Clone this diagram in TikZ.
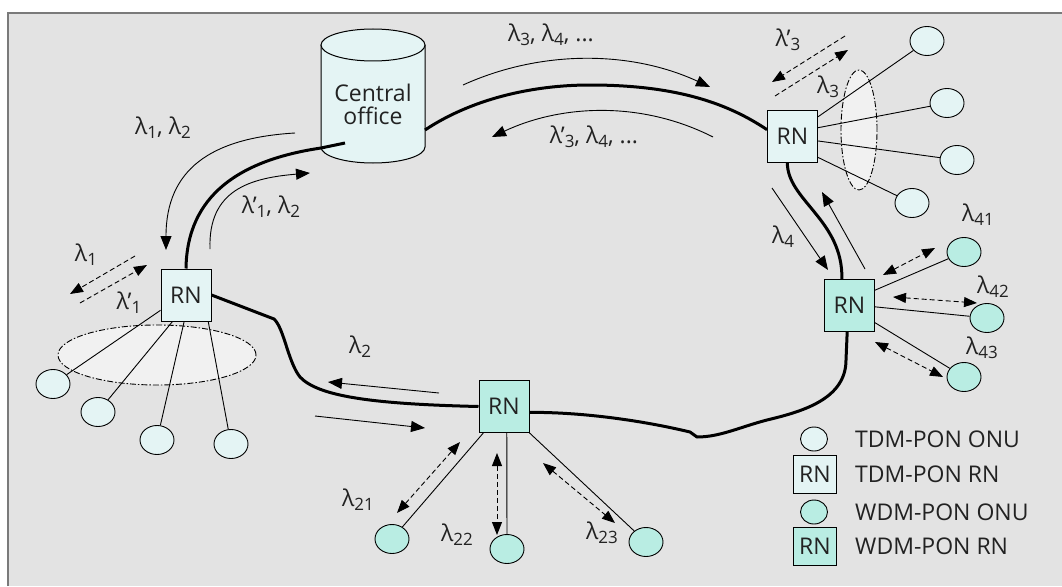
\documentclass[tikz,border=0pt]{standalone}
\usepackage{fontspec}
\setmainfont{Open Sans}
\usetikzlibrary{arrows.meta,shapes.geometric}
\definecolor{bg}{HTML}{E3E3E3}
\definecolor{framec}{HTML}{7A7A7A}
\definecolor{tdm}{HTML}{E4F4F4}
\definecolor{wdm}{HTML}{B9EDE3}
\definecolor{cloud}{HTML}{F1F1F1}
\definecolor{txt}{HTML}{222222}
\newcommand\sub[1]{\raisebox{-4pt}{\fontsize{17}{17}\selectfont #1}}
\begin{document}
\begin{tikzpicture}[x=1pt,y=-1pt,
  ring/.style={line width=3pt,line join=round},
  thin/.style={line width=0.9pt},
  tip/.style={thin,-{Triangle[length=14pt,width=11pt]}},
  dtip/.style={thin,dash pattern=on 5pt off 3pt,
    {Triangle[length=13pt,width=10pt]}-{Triangle[length=13pt,width=10pt]}},
  dsh/.style={thin,dash pattern=on 5pt off 3pt,-{Triangle[length=13pt,width=10pt]}},
  group/.style={draw,line width=0.9pt,fill=cloud,dash pattern=on 6pt off 2pt on 1.5pt off 2pt},
  onu/.style={ellipse,draw,line width=0.9pt,fill=tdm,minimum width=34pt,minimum height=29pt,inner sep=0pt},
  wonu/.style={onu,fill=wdm},
  rnbox/.style={draw,line width=1pt,fill=tdm,minimum width=50pt,minimum height=52pt,inner sep=0pt,
    text=txt,font=\fontsize{23}{23}\selectfont},
  wrn/.style={rnbox,fill=wdm},
  lbl/.style={inner sep=0pt,text=txt,font=\fontsize{23}{23}\selectfont}]
\useasboundingbox (0,0) rectangle (1062,586);
\fill[white] (0,0) rectangle (1062,586);
\fill[bg] (8,13) rectangle (1062,586);
\draw[framec,line width=2.5pt] (8,586) -- (8,13) -- (1062,13);

% central office drum
\filldraw[fill=tdm,line width=1pt] (321,45) -- (321,147)
  arc[start angle=180,end angle=360,x radius=52pt,y radius=16pt] -- (425,45);
\filldraw[fill=tdm,line width=1pt] (373,45) ellipse[x radius=52pt,y radius=16pt];
\node[lbl,align=center,font=\fontsize{23}{23}\selectfont] (co) at (373,104) {Central\\office};
\coordinate (coIn) at (345,143);
\coordinate (coR) at (425,130);

% shaded splitter groups
\path[group] (157,355) ellipse[x radius=99pt,y radius=30pt];
\path[group] (859,130) ellipse[x radius=18pt,y radius=60pt];

% remote nodes
\node[rnbox] (rn1) at (186,295) {RN};
\node[rnbox] (rn3) at (792.5,136) {RN};
\node[wrn] (rn4) at (849.5,305.5) {RN};
\node[wrn] (rn2) at (504,406.5) {RN};

% fibre ring
\draw[ring] (coIn) -- (321,148) .. controls (240,160) and (187,195) .. (rn1.north);
\draw[ring] (coR) .. controls (470,100) and (530,85) .. (590,85)
  .. controls (680,85) and (730,105) .. (rn3.166);
\draw[ring] (rn3.259) .. controls (787,200) and (843,220) .. (rn4.106);
\draw[ring] (rn4.265) -- (846,360) .. controls (846,400) and (800,412) .. (767,420)
  .. controls (740,427) and (720,437) .. (697,437) -- (690,432)
  .. controls (640,420) and (580,412) .. (rn2.-13);
\draw[ring] (rn1.east) -- (274,319) .. controls (284,328) and (288,362) .. (300,377)
  .. controls (318,396) and (370,404) .. (rn2.west);

% TDM ONUs
\node[onu] (o11) at (53,384) {};
\node[onu] (o12) at (98,412) {};
\node[onu] (o13) at (157,440) {};
\node[onu] (o14) at (231,444) {};
\draw[thin] (rn1.211) -- (o11);
\draw[thin] (rn1.243) -- (o12);
\draw[thin] (rn1.266) -- (o13);
\draw[thin] (rn1.310) -- (o14);

\node[onu] (o31) at (927,41) {};
\node[onu] (o32) at (947,103) {};
\node[onu] (o33) at (957,160) {};
\node[onu] (o34) at (912,203) {};
\draw[thin] (rn3.37) -- (o31);
\draw[thin] (rn3.18) -- (o32);
\draw[thin] (rn3.-11) -- (o33);
\draw[thin] (rn3.-40) -- (o34);

% WDM ONUs
\node[wonu] (o41) at (964,252) {};
\node[wonu] (o42) at (987,318) {};
\node[wonu] (o43) at (964,377) {};
\draw[thin] (rn4.31) -- (o41);
\draw[thin] (rn4.-3) -- (o42);
\draw[thin] (rn4.-34) -- (o43);

\node[wonu] (o21) at (392,539) {};
\node[wonu] (o22) at (507,549) {};
\node[wonu] (o23) at (646,542) {};
\draw[thin] (rn2.232) -- (o21);
\draw[thin] (rn2.276) -- (o22);
\draw[thin] (rn2.314) -- (o23);

% traffic arrows
\coordinate (a1s) at (295,133); \coordinate (a1e) at (166,250);
\draw[tip] (a1s) .. controls (210,138) and (166,170) .. (a1e);
\coordinate (a2s) at (210,249); \coordinate (a2e) at (310,173);
\draw[tip] (a2s) .. controls (208,190) and (250,178) .. (a2e);
\coordinate (a3s) at (463,85); \coordinate (a3e) at (710,87);
\draw[tip] (a3s) .. controls (540,50) and (630,50) .. (a3e);
\coordinate (a4s) at (713,137); \coordinate (a4e) at (492,137);
\draw[tip] (a4s) .. controls (640,100) and (560,105) .. (a4e);
\coordinate (a5s) at (439,393); \coordinate (a5e) at (328,382);
\draw[tip] (a5s) -- (a5e);
\coordinate (a6s) at (315,416); \coordinate (a6e) at (425,428);
\draw[tip] (a6s) -- (a6e);
\coordinate (a7s) at (772,188); \coordinate (a7e) at (828,270);
\draw[tip] (a7s) -- (a7e);
\coordinate (a8s) at (865,269); \coordinate (a8e) at (822,192);
\draw[tip] (a8s) -- (a8e);

% per-wavelength dashed arrows
\coordinate (d1s) at (135,256); \coordinate (d1e) at (70,294);
\draw[dsh] (d1s) -- (d1e);
\coordinate (d2s) at (80,303); \coordinate (d2e) at (147,265);
\draw[dsh] (d2s) -- (d2e);
\coordinate (d3s) at (845,36); \coordinate (d3e) at (772,82);
\draw[dsh] (d3s) -- (d3e);
\coordinate (d4s) at (775,96); \coordinate (d4e) at (848,50);
\draw[dsh] (d4s) -- (d4e);
\coordinate (e21a) at (397,513); \coordinate (e21b) at (460,442);
\draw[dtip] (e21a) -- (e21b);
\coordinate (e22a) at (497,453); \coordinate (e22b) at (497,535);
\draw[dtip] (e22a) -- (e22b);
\coordinate (e23a) at (543,463); \coordinate (e23b) at (615,523);
\draw[dtip] (e23a) -- (e23b);
\coordinate (e41a) at (883,275); \coordinate (e41b) at (935,248);
\draw[dtip] (e41a) -- (e41b);
\coordinate (e42a) at (893,297); \coordinate (e42b) at (977,303);
\draw[dtip] (e42a) -- (e42b);
\coordinate (e43a) at (875,342); \coordinate (e43b) at (943,377);
\draw[dtip] (e43a) -- (e43b);

% wavelength labels
\node[lbl] (l12) at (163,128) {λ\sub{1}, λ\sub{2}};
\node[lbl] (l12b) at (271,207) {λ'\sub{1}, λ\sub{2}};
\node[lbl] (l1) at (86,255) {λ\sub{1}};
\node[lbl] (l1b) at (129,303) {λ'\sub{1}};
\node[lbl] (l34) at (551,35) {λ\sub{3}, λ\sub{4}, ...};
\node[lbl] (l34b) at (594,137) {λ'\sub{3}, λ\sub{4}, ...};
\node[lbl] (l3b) at (788,40) {λ'\sub{3}};
\node[lbl] (l3) at (828,87) {λ\sub{3}};
\node[lbl] (l4) at (783,237) {λ\sub{4}};
\node[lbl] (l41) at (978,215) {λ\sub{41}};
\node[lbl] (l42) at (993,287) {λ\sub{42}};
\node[lbl] (l43) at (982,348) {λ\sub{43}};
\node[lbl] (l2) at (360,347) {λ\sub{2}};
\node[lbl] (l21) at (358,500) {λ\sub{21}};
\node[lbl] (l22) at (457,535) {λ\sub{22}};
\node[lbl] (l23) at (602,533) {λ\sub{23}};

% key
\node[onu,minimum width=27pt,minimum height=24pt] (k1) at (814,439) {};
\node[rnbox,minimum width=43pt,minimum height=38pt] (k2) at (815,474) {RN};
\node[wonu,minimum width=27pt,minimum height=24pt] (k3) at (814,512) {};
\node[wrn,minimum width=43pt,minimum height=38pt] (k4) at (815,546) {RN};
\node[lbl,anchor=west] (t1) at (855,439) {TDM-PON ONU};
\node[lbl,anchor=west] (t2) at (855,474) {TDM-PON RN};
\node[lbl,anchor=west] (t3) at (855,512) {WDM-PON ONU};
\node[lbl,anchor=west] (t4) at (855,546) {WDM-PON RN};
\end{tikzpicture}
\end{document}
